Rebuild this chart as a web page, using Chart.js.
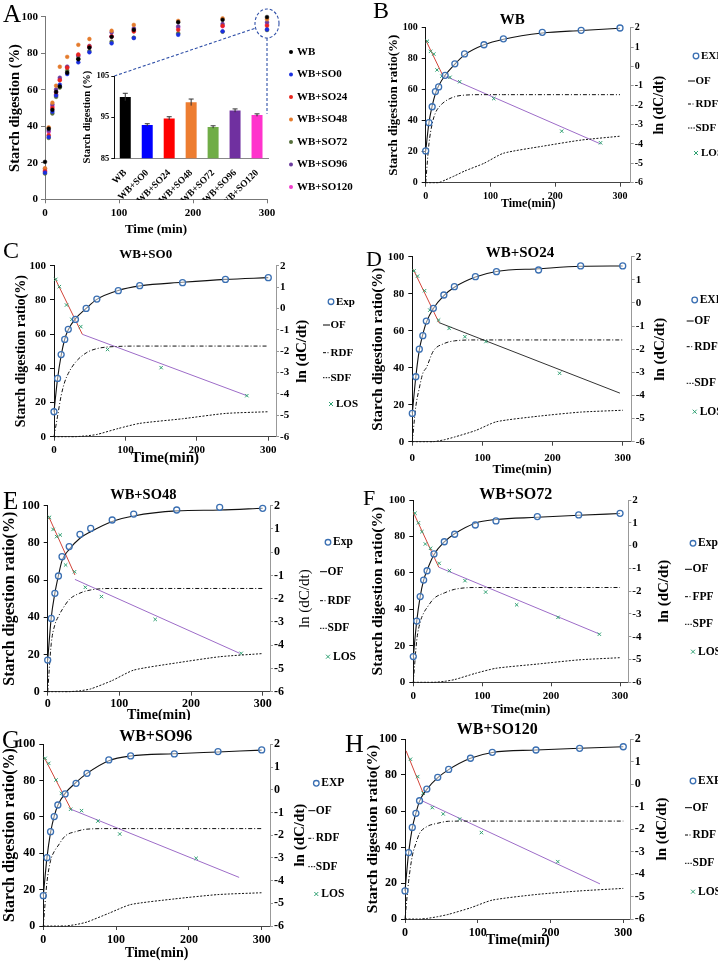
<!DOCTYPE html>
<html>
<head>
<meta charset="utf-8">
<script src="https://cdn.jsdelivr.net/npm/chart.js@4.4.1/dist/chart.umd.min.js"></script>
<style>
  body { margin: 0; background: #fff; width: 718px; height: 962px; position: relative; overflow: hidden; }
  canvas { position: absolute; }
</style>
</head>
<body>
<script>
// sampling times (min)
const T = [0, 5, 10, 15, 20, 30, 45, 60, 90, 120, 180, 240, 300]

// WB
const wbExp = [20.5, 38.7, 49, 58.8, 61.8, 69.3, 76.7, 83.1, 89, 92.8, 97, 98.3, 99.8]
const wbOf  = [20.5, 38.7, 49.5, 57.5, 62.5, 69.3, 76.5, 82.5, 89, 92.6, 96.6, 98.2, 99.6]
const wbRdf = [0, 25, 38, 45, 48.5, 52.5, 55.5, 56.5, 56.8, 56.8, 56.8, 56.8, 56.8]
const wbSdf = [0, 0, 0, 0, 0, 1.7, 4.5, 7.5, 12.5, 19, 23.5, 27.5, 30]
const wbLosT = [2.5, 7.5, 12.5, 17.5, 25, 37.5, 52.5, 105, 210, 270]
const wbLosV = [1.3, 0.78, 0.64, -0.18, -0.5, -0.56, -0.79, -1.66, -3.34, -3.94]
const wbFit1 = [[0.5, 1.33], [26, -0.44]]
const wbFit2 = [[26, -0.44], [270, -4.0]]

// WB+SO0
const so0Exp = [14.6, 34.1, 48, 56.9, 62.8, 68.6, 75, 80.5, 85.4, 88.3, 90.1, 92, 93]
const so0Of  = [14.6, 34, 47.5, 57, 62.5, 69, 75, 80.3, 85.5, 88.2, 90.3, 92, 93]
const so0Rdf = [0, 12, 24, 32, 37, 43.5, 49, 51.5, 52.8, 53, 53, 53, 53]
const so0Sdf = [0, 0, 0, 0, 0, 0, 0.5, 1.3, 4.8, 7.8, 10.5, 13.6, 14.6]
const so0LosT = [2.5, 7.5, 17.5, 25, 37.5, 75, 150, 270]
const so0LosV = [1.36, 1.02, 0.16, -0.51, -0.85, -1.92, -2.77, -4.08]
const so0Fit1 = [[1.4, 1.41], [39.7, -1.21]]
const so0Fit2 = [[39.7, -1.21], [270, -4.08]]

// WB+SO24
const so24Exp = [15.3, 35.1, 50, 57.3, 65.2, 72.1, 79.3, 83.8, 89.2, 91.9, 92.8, 95, 95]
const so24Of  = [15.3, 35, 49.5, 58, 64.5, 72, 79, 83.5, 89, 92, 93.5, 94.8, 95]
const so24Rdf = [0, 19, 29, 37, 40, 49, 53, 54.5, 55, 55, 55, 55, 55]
const so24Sdf = [0, 0, 0, 0, 0, 0, 1, 2.5, 6, 10.8, 13.8, 16, 17]
const so24LosT = [2.5, 7.5, 17.5, 25, 37.5, 52.5, 75, 105, 210]
const so24LosV = [1.39, 1.16, 0.53, -0.31, -0.74, -1.1, -1.46, -1.67, -3.04]
const so24Fit1 = [[1.4, 1.45], [38, -0.85]]
const so24Fit2 = [[38, -0.85], [296, -3.9]]

// WB+SO48
const so48Exp = [17, 39.4, 52.9, 62.2, 72.6, 78, 84.6, 87.8, 92.3, 95.5, 97.7, 99.1, 98.6]
const so48Of  = [17, 40, 53, 62.5, 70.5, 76.5, 82.5, 86, 91.5, 94.5, 97.2, 97.7, 98.6]
const so48Rdf = [0, 26, 36, 40.5, 44, 49.5, 53, 54.7, 55.5, 55.5, 55.5, 55.5, 55.5]
const so48Sdf = [0, 0, 0, 0, 0, 0, 0.5, 1.5, 6, 11.6, 15.5, 18.8, 20.5]
const so48LosT = [2.5, 7.5, 12.5, 17.5, 25, 37.5, 52.5, 75, 150, 270]
const so48LosV = [1.5, 0.98, 0.67, 0.74, -0.55, -0.84, -1.51, -1.91, -2.89, -4.35]
const so48Fit1 = [[1, 1.56], [38, -0.98]]
const so48Fit2 = [[38, -1.17], [268, -4.35]]

// WB+SO72
const so72Exp = [14.1, 33.6, 47, 56.1, 61.2, 70.4, 77.1, 81.2, 86.3, 88.5, 90.9, 91.8, 92.7]
const so72Of  = [14.1, 33.6, 47, 56, 61.5, 70, 77, 81.5, 87.3, 89.3, 90.5, 91.6, 92.6]
const so72Rdf = [0, 23, 33, 38, 41, 46, 49, 51, 52, 52, 52, 52, 52]
const so72Sdf = [0, 0, 0, 0, 0, 0, 0.5, 1.5, 4.9, 7.7, 10, 12.3, 13.5]
const so72LosT = [2.5, 7.5, 12.5, 17.5, 25, 37.5, 52.5, 75, 105, 150, 210, 270]
const so72LosV = [1.42, 1.0, 0.61, 0.07, -0.12, -0.78, -1.1, -1.54, -2.04, -2.6, -3.15, -3.89]
const so72Fit1 = [[0, 1.46], [37, -0.95]]
const so72Fit2 = [[37, -0.95], [270, -3.88]]

// WB+SO96
const so96Exp = [16.7, 37.6, 51.9, 60.2, 66.6, 72.7, 78.5, 84, 91.4, 93.6, 94.7, 96, 96.9]
const so96Of  = [16.7, 37.5, 51.5, 60.5, 66.5, 73, 79, 84, 91, 93.6, 94.8, 95.8, 96.8]
const so96Rdf = [0, 24, 36, 41, 44, 49.5, 52, 53.3, 53.6, 53.6, 53.6, 53.6, 53.6]
const so96Sdf = [0, 0, 0, 0, 0, 0, 0.8, 2.2, 7, 11.8, 14.9, 17.3, 18.3]
const so96LosT = [2.5, 7.5, 17.5, 25, 37.5, 52.5, 75, 105, 210]
const so96LosV = [1.38, 1.16, 0.43, -0.16, -0.86, -0.92, -1.38, -1.95, -3.02]
const so96Fit1 = [[1.4, 1.41], [38, -0.86]]
const so96Fit2 = [[38, -0.86], [269, -3.86]]

// WB+SO120
const so120Exp = [15.6, 36.9, 50.9, 58.7, 65.7, 72.2, 78.7, 83.1, 89.3, 92.6, 93.9, 94.8, 95.7]
const so120Of  = [15.6, 36.9, 50.5, 58.8, 65.5, 72, 78.5, 83, 89.3, 92.5, 93.9, 94.9, 95.7]
const so120Rdf = [0, 21, 35, 42, 47.5, 51.3, 53.2, 54.3, 54.4, 54.4, 54.4, 54.4, 54.4]
const so120Sdf = [0, 0, 0, 0, 0, 0.3, 1.3, 2.6, 6.2, 10.5, 13.6, 15.6, 17]
const so120LosT = [7.5, 17.5, 25, 37.5, 52.5, 75, 105, 210]
const so120LosV = [1.1, 0.33, -0.41, -1.05, -1.33, -1.56, -2.16, -3.45]
const so120Fit1 = [[1.4, 1.48], [25, -0.41]]
const so120Fit2 = [[23, -0.74], [268, -4.44]]

// inset: digestion at 300 min
const barLabels = ['WB', 'WB+SO0', 'WB+SO24', 'WB+SO48', 'WB+SO72', 'WB+SO96', 'WB+SO120']
const barVals = [99.9, 93.1, 94.7, 98.6, 92.6, 96.6, 95.5]
const barErr = [0.9, 0.3, 0.4, 0.8, 0.3, 0.4, 0.3]
const xTicks = [0, 100, 200, 300]

const serif = "'Liberation Serif', 'Times New Roman', serif"
Chart.defaults.font.family = serif
Chart.defaults.color = '#000'

const scatterColors = ['#000000', '#1a2fe0', '#e8231c', '#e47b2c', '#566f3c', '#6b3b9e', '#f03ccc']
const barColors = ['#000000', '#0000ff', '#ff0000', '#ed7d31', '#70ad47', '#7030a0', '#ff33cc']
const expColor = '#3a6fb2'
const losColor = '#2fa072'

function pts(xs, ys) {
    return xs.map((x, i) => ({ x: x, y: ys[i] }))
}
function pairs(p) {
    return p.map(d => ({ x: d[0], y: d[1] }))
}
function font(size, bold) {
    return { family: serif, size: size, weight: bold === false ? 'normal' : 'bold' }
}
function addCanvas(box) {
    const cv = document.createElement('canvas')
    cv.width = box[2]
    cv.height = box[3]
    cv.style.left = box[0] + 'px'
    cv.style.top = box[1] + 'px'
    cv.style.width = box[2] + 'px'
    cv.style.height = box[3] + 'px'
    document.body.appendChild(cv)
    return cv
}

// draws panel letter, title, right axis title and the legend
function decor(c) {
    return {
        id: 'decor' + c.letter[0],
        afterDraw(chart) {
            const ctx = chart.ctx
            ctx.save()
            ctx.translate(-c.box[0], -c.box[1])
            ctx.fillStyle = '#000'
            ctx.font = c.letter[3] + 'px ' + serif
            ctx.textAlign = 'left'
            ctx.textBaseline = 'alphabetic'
            ctx.fillText(c.letter[0], c.letter[1], c.letter[2])

            ctx.textBaseline = 'middle'
            ctx.font = 'bold ' + c.title[3] + 'px ' + serif
            ctx.textAlign = 'center'
            ctx.fillText(c.title[0], c.title[1], c.title[2])

            ctx.save()
            ctx.translate(c.rTitleX, (c.plot[1] + c.plot[3]) / 2)
            ctx.rotate(-Math.PI / 2)
            ctx.font = (c.rtBold === false ? '' : 'bold ') + c.rt + 'px ' + serif
            ctx.fillText('ln (dC/dt)', 0, 0)
            ctx.restore()

            // legend
            const L = c.legL
            ctx.textAlign = 'left'
            ctx.font = 'bold ' + c.lg + 'px ' + serif
            c.legY.forEach((y, i) => {
                ctx.save()
                ctx.lineWidth = 1
                if (i === 0) {
                    ctx.strokeStyle = expColor
                    ctx.lineWidth = 1.3
                    ctx.beginPath()
                    ctx.arc(L + 8, y, 2.8, 0, Math.PI * 2)
                    ctx.stroke()
                } else if (i === 4) {
                    ctx.strokeStyle = losColor
                    ctx.beginPath()
                    ctx.moveTo(L + 6, y - 2); ctx.lineTo(L + 10, y + 2)
                    ctx.moveTo(L + 10, y - 2); ctx.lineTo(L + 6, y + 2)
                    ctx.stroke()
                } else {
                    ctx.strokeStyle = '#000'
                    ctx.setLineDash(i === 1 ? [] : i === 2 ? [3, 1.5, 1, 1.5] : [1.5, 1.2])
                    ctx.beginPath()
                    ctx.moveTo(L, y); ctx.lineTo(L + 7, y)
                    ctx.stroke()
                }
                ctx.restore()
                ctx.fillText(c.labels[i], (i === 0 || i === 4) ? L + 13 : L + 7.5, y)
            })
            ctx.restore()
        }
    }
}

function kineticPanel(c) {
    const [bx, by, bw, bh] = c.box
    const [pl, pt, pr, pb] = c.plot
    const cv = addCanvas(c.box)
    const axFont = font(c.ax)
    const xtFont = font(c.xt)
    new Chart(cv, {
        type: 'line',
        data: {
            datasets: [
                { data: pts(T, c.exp), showLine: false, pointStyle: 'circle', pointRadius: 3,
                  pointBorderWidth: 1.3, pointBorderColor: expColor, pointBackgroundColor: 'rgba(255,255,255,0.5)' },
                { data: pts(T, c.of), borderColor: '#111', borderWidth: 1.1, pointRadius: 0, cubicInterpolationMode: 'monotone' },
                { data: pts(T, c.rdf), borderColor: '#111', borderWidth: 1, borderDash: [4, 2, 1, 2], pointRadius: 0, cubicInterpolationMode: 'monotone' },
                { data: pts(T, c.sdf), borderColor: '#111', borderWidth: 1, borderDash: [2, 1.5], pointRadius: 0, tension: 0.2 },
                { data: pts(c.losT, c.losV), yAxisID: 'y2', showLine: false, pointStyle: 'crossRot', pointRadius: 2.4,
                  pointBorderWidth: 1, pointBorderColor: losColor },
                { data: pairs(c.fit1), yAxisID: 'y2', borderColor: '#d2453a', borderWidth: 1, pointRadius: 0 },
                { data: pairs(c.fit2), yAxisID: 'y2', borderColor: c.fit2Color || '#9d6cc8', borderWidth: 1, pointRadius: 0 }
            ]
        },
        options: {
            responsive: false,
            animation: false,
            datasets: { line: { clip: false } },
            layout: { padding: { top: pt - by, left: 0, right: 0, bottom: 0 } },
            plugins: { legend: { display: false }, tooltip: { enabled: false } },
            scales: {
                x: {
                    type: 'linear', min: 0, max: c.xMax,
                    afterBuildTicks: s => { s.ticks = xTicks.map(v => ({ value: v })) },
                    afterFit: s => { s.height = by + bh - pb },
                    grid: { drawOnChartArea: false, tickLength: 4, color: '#444' },
                    border: { color: '#444' },
                    ticks: { font: font(c.tick), color: '#000', padding: c.xPad, maxRotation: 0 },
                    title: { display: true, text: 'Time(min)', font: xtFont, color: '#000',
                             padding: { top: 0, bottom: (by + bh - c.xTitleY) - c.xt * 0.6 } }
                },
                y: {
                    position: 'left', min: 0, max: 100,
                    afterFit: s => { s.width = pl - bx },
                    grid: { drawOnChartArea: false, tickLength: 4, color: '#111' },
                    border: { color: '#111' },
                    ticks: { stepSize: 20, font: font(c.tick), color: '#000', padding: 4 },
                    title: { display: true, text: 'Starch digestion ratio(%)', font: axFont, color: '#000',
                             padding: { top: (c.lTitleX - bx) - c.ax * 0.6, bottom: 0 } }
                },
                y2: {
                    position: 'right', min: -6, max: 2,
                    afterFit: s => { s.width = bx + bw - pr },
                    grid: { drawOnChartArea: false, tickLength: 3, color: '#999' },
                    border: { color: '#999' },
                    ticks: { stepSize: 1, font: font(c.tick), color: '#000', padding: 1 }
                }
            }
        },
        plugins: [decor(c)]
    })
}

// ---- panel A: scatter with inset bar chart ----
const boxA = [0, 0, 359, 240]
const plotA = [45, 16.7, 267, 199.3]
const boxIn = [70, 60, 205, 140]
const plotIn = [114.3, 76, 268, 158.3]
const cvA = addCanvas(boxA)
const cvIn = addCanvas(boxIn)

const insetChart = new Chart(cvIn, {
    type: 'bar',
    data: {
        labels: barLabels,
        datasets: [{ data: barVals, backgroundColor: barColors, barPercentage: 0.5, categoryPercentage: 1 }]
    },
    options: {
        responsive: false,
        animation: false,
        layout: { padding: { top: plotIn[1] - boxIn[1], right: boxIn[0] + boxIn[2] - plotIn[2], left: 0, bottom: 0 } },
        plugins: { legend: { display: false }, tooltip: { enabled: false } },
        scales: {
            x: {
                grid: { display: false },
                border: { color: '#888' },
                afterFit: s => { s.height = boxIn[1] + boxIn[3] - plotIn[3] },
                ticks: { font: font(9.5), color: '#000', minRotation: 45, maxRotation: 45, padding: 1 }
            },
            y: {
                min: 85, max: 105,
                afterFit: s => { s.width = plotIn[0] - boxIn[0] },
                grid: { drawOnChartArea: false, tickLength: 3, color: '#111' },
                border: { color: '#111' },
                ticks: { stepSize: 10, font: font(8.5), color: '#000', padding: 2 },
                title: { display: true, text: 'Starch digestion (%)', font: font(10.5), color: '#000',
                         padding: { top: 17 - 6.3, bottom: 0 } }
            }
        }
    },
    plugins: [{
        id: 'errorBars',
        afterDatasetsDraw(chart) {
            const ctx = chart.ctx, ys = chart.scales.y
            const meta = chart.getDatasetMeta(0)
            ctx.save()
            ctx.strokeStyle = '#333'
            ctx.lineWidth = 1
            meta.data.forEach((bar, i) => {
                const hi = ys.getPixelForValue(barVals[i] + barErr[i])
                const lo = ys.getPixelForValue(barVals[i] - barErr[i])
                ctx.beginPath()
                ctx.moveTo(bar.x, hi); ctx.lineTo(bar.x, lo)
                ctx.moveTo(bar.x - 2.5, hi); ctx.lineTo(bar.x + 2.5, hi)
                ctx.stroke()
            })
            ctx.restore()
        }
    }]
})

const seriesA = [wbExp, so0Exp, so24Exp, so48Exp, so72Exp, so96Exp, so120Exp]

new Chart(cvA, {
    type: 'scatter',
    data: {
        datasets: seriesA.map((s, i) => ({
            label: barLabels[i], data: pts(T, s), pointRadius: 1.9, pointStyle: 'circle', clip: false,
            backgroundColor: scatterColors[i], borderColor: scatterColors[i], borderWidth: 0.5
        }))
    },
    options: {
        responsive: false,
        animation: false,
        layout: { padding: { top: plotA[1], right: boxA[2] - plotA[2], left: 0, bottom: 0 } },
        plugins: { legend: { display: false }, tooltip: { enabled: false } },
        scales: {
            x: {
                type: 'linear', min: 0, max: 300,
                afterBuildTicks: s => { s.ticks = xTicks.map(v => ({ value: v })) },
                afterFit: s => { s.height = boxA[3] - plotA[3] },
                grid: { drawOnChartArea: false, tickLength: 4, color: '#777' },
                border: { color: '#777' },
                ticks: { font: font(11), color: '#000', padding: 3, maxRotation: 0 },
                title: { display: true, text: 'Time (min)', font: font(13), color: '#000',
                         padding: { top: 0, bottom: (240 - 230) - 7.8 } }
            },
            y: {
                min: 0, max: 100,
                afterFit: s => { s.width = plotA[0] },
                grid: { drawOnChartArea: false, tickLength: 4, color: '#777' },
                border: { color: '#777' },
                ticks: { stepSize: 20, font: font(11), color: '#000', padding: 3 },
                title: { display: true, text: 'Starch digestion (%)', font: font(14.5), color: '#000',
                         padding: { top: 15 - 8.7, bottom: 0 } }
            }
        }
    },
    plugins: [{
        id: 'decorA',
        afterDraw(chart) {
            const ctx = chart.ctx
            const xs = chart.scales.x, ys = chart.scales.y
            const ia = insetChart.chartArea
            const iy = insetChart.scales.y
            ctx.save()
            ctx.fillStyle = '#000'
            ctx.font = '25px ' + serif
            ctx.fillText('A', 3, 22)

            // zoom ellipse around the 300 min points and the dashed leaders
            const cx = xs.getPixelForValue(300), cy = ys.getPixelForValue(96.3)
            ctx.strokeStyle = '#3050a8'
            ctx.lineWidth = 1.1
            ctx.setLineDash([3, 2])
            ctx.beginPath()
            ctx.ellipse(cx, cy, 12, 14.5, 0, 0, Math.PI * 2)
            ctx.stroke()
            ctx.beginPath()
            ctx.moveTo(cx - 12.5, cy + 5)
            ctx.lineTo(boxIn[0] + ia.left, boxIn[1] + ia.top)
            ctx.moveTo(cx, cy + 14.5)
            ctx.lineTo(boxIn[0] + ia.right - 1, boxIn[1] + iy.getPixelForValue(barVals[6] + barErr[6]))
            ctx.stroke()
            ctx.setLineDash([])

            // legend
            ctx.font = 'bold 11px ' + serif
            ctx.textBaseline = 'middle'
            barLabels.forEach((lab, i) => {
                const y = 52 + i * 22.5
                ctx.fillStyle = scatterColors[i]
                ctx.beginPath()
                ctx.arc(291, y, 2, 0, Math.PI * 2)
                ctx.fill()
                ctx.fillStyle = '#000'
                ctx.fillText(lab, 297, y)
            })
            ctx.restore()
        }
    }]
})

// ---- kinetic panels B-H ----
const std = ['EXP', 'OF', 'RDF', 'SDF', 'LOS']

kineticPanel({ box: [359, 0, 359, 240], plot: [425.7, 27.7, 630.7, 182.7], xMax: 316.5,
    lTitleX: 393.3, rTitleX: 659, xTitleY: 204, xPad: 4, tick: 10, ax: 13, xt: 12, rt: 14, lg: 11,
    legL: 688, legY: [56, 81, 104, 128, 153], labels: std,
    letter: ['B', 373, 18, 24], title: ['WB', 512.3, 20, 15],
    exp: wbExp, of: wbOf, rdf: wbRdf, sdf: wbSdf, losT: wbLosT, losV: wbLosV, fit1: wbFit1, fit2: wbFit2 })

kineticPanel({ box: [0, 240, 359, 240], plot: [54, 265.7, 276, 436.7], xMax: 310.8,
    lTitleX: 21.7, rTitleX: 301.7, xTitleY: 458.3, xPad: 3, tick: 11, ax: 14, xt: 15, rt: 15, lg: 11,
    legL: 323, legY: [301.7, 325, 352.7, 377.7, 404], labels: ['Exp', 'OF', 'RDF', 'SDF', 'LOS'],
    letter: ['C', 3, 258, 24], title: ['WB+SO0', 145.7, 255, 13],
    exp: so0Exp, of: so0Of, rdf: so0Rdf, sdf: so0Sdf, losT: so0LosT, losV: so0LosV, fit1: so0Fit1, fit2: so0Fit2 })

kineticPanel({ box: [359, 240, 359, 240], plot: [412.3, 256.7, 631.7, 441.7], xMax: 312.8,
    lTitleX: 378.3, rTitleX: 660, xTitleY: 470, xPad: 6, tick: 11, ax: 15, xt: 13, rt: 15, lg: 11.5,
    legL: 686.7, legY: [300, 321, 346.7, 383.3, 411.7], labels: std,
    letter: ['D', 366, 266, 22], title: ['WB+SO24', 520, 253.3, 15],
    exp: so24Exp, of: so24Of, rdf: so24Rdf, sdf: so24Sdf, losT: so24LosT, losV: so24LosV,
    fit1: so24Fit1, fit2: so24Fit2, fit2Color: '#333' })

kineticPanel({ box: [0, 480, 359, 240], plot: [47.7, 505.7, 270, 691.7], xMax: 310.2,
    lTitleX: 10, rTitleX: 305, xTitleY: 715, xPad: 1, tick: 12, ax: 16, xt: 14, rt: 15, rtBold: false, lg: 11.5,
    legL: 320, legY: [542.3, 571.7, 600.7, 628.3, 656.7], labels: ['Exp', 'OF', 'RDF', 'SDF', 'LOS'],
    letter: ['E', 3, 509, 25], title: ['WB+SO48', 143.3, 495, 14.5],
    exp: so48Exp, of: so48Of, rdf: so48Rdf, sdf: so48Sdf, losT: so48LosT, losV: so48LosV, fit1: so48Fit1, fit2: so48Fit2 })

kineticPanel({ box: [359, 480, 359, 240], plot: [413.3, 500, 628.3, 682.3], xMax: 312,
    lTitleX: 378.3, rTitleX: 664, xTitleY: 710, xPad: 3, tick: 11, ax: 15.5, xt: 13, rt: 15, lg: 11.5,
    legL: 685, legY: [543.3, 569.3, 596.7, 624.3, 651.7], labels: ['Exp', 'OF', 'FPF', 'SPF', 'LOS'],
    letter: ['F', 363, 505, 22], title: ['WB+SO72', 515.7, 495, 16],
    exp: so72Exp, of: so72Of, rdf: so72Rdf, sdf: so72Sdf, losT: so72LosT, losV: so72LosV, fit1: so72Fit1, fit2: so72Fit2 })

kineticPanel({ box: [0, 720, 359, 242], plot: [43.3, 744.3, 270, 926], xMax: 311.4,
    lTitleX: 10, rTitleX: 300, xTitleY: 953.3, xPad: 2.5, tick: 12, ax: 16, xt: 14, rt: 15, lg: 11.5,
    legL: 308.3, legY: [783.3, 810.7, 838.3, 866.7, 894], labels: std,
    letter: ['G', 2, 748, 25], title: ['WB+SO96', 155.7, 736.7, 16],
    exp: so96Exp, of: so96Of, rdf: so96Rdf, sdf: so96Sdf, losT: so96LosT, losV: so96LosV, fit1: so96Fit1, fit2: so96Fit2 })

kineticPanel({ box: [340, 720, 378, 242], plot: [405, 739, 630.7, 919], xMax: 310.2,
    lTitleX: 373.3, rTitleX: 661.7, xTitleY: 940, xPad: 3, tick: 12, ax: 15.5, xt: 14, rt: 15, lg: 11.5,
    legL: 685, legY: [781, 807.7, 835, 863.3, 891.7], labels: std,
    letter: ['H', 345, 752, 26], title: ['WB+SO120', 497.3, 730, 16],
    exp: so120Exp, of: so120Of, rdf: so120Rdf, sdf: so120Sdf, losT: so120LosT, losV: so120LosV,
    fit1: so120Fit1, fit2: so120Fit2 })
</script>
</body>
</html>
